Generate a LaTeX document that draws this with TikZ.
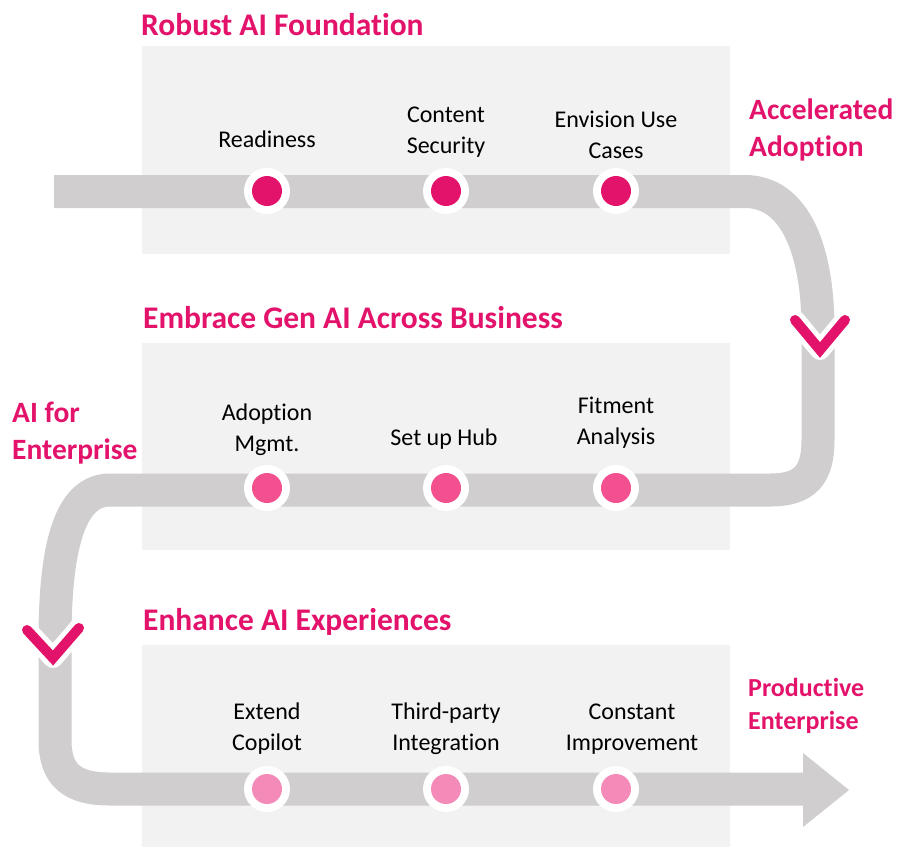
\documentclass[tikz,border=0pt]{standalone}
\usepackage{fontspec}
\setmainfont{Carlito}[RawFeature=-liga]
\definecolor{mag}{HTML}{E3126A}
\definecolor{dotA}{HTML}{E3126A}
\definecolor{dotB}{HTML}{F2508F}
\definecolor{dotC}{HTML}{F48AB8}
\definecolor{band}{HTML}{D0CECF}
\definecolor{panel}{HTML}{F2F2F2}
\tikzset{
  ttl/.style={text=mag,font=\fontsize{31.5}{37}\selectfont\bfseries,anchor=west,inner sep=0pt},
  side/.style={text=mag,font=\fontsize{29.5}{37}\selectfont\bfseries,anchor=west,align=left,inner sep=0pt},
  sideb/.style={text=mag,font=\fontsize{26}{33}\selectfont\bfseries,anchor=west,align=left,inner sep=0pt},
  lbl/.style={text=black,font=\fontsize{24}{31}\selectfont,align=center,inner sep=0pt},
  pnl/.style={fill=panel,draw=none},
  bandline/.style={draw=band,line width=33pt},
  ring/.style={circle,fill=white,minimum size=46pt,inner sep=0pt},
  chevw/.style={draw=white,line width=20pt,line cap=round,line join=round},
  chevm/.style={draw=mag,line width=10pt,line cap=round,line join=miter},
}
\begin{document}
\begin{tikzpicture}[x=1pt,y=-1pt]
\useasboundingbox (0,0) rectangle (912,847);
% panels
\fill[pnl] (142,46) rectangle (730,254);
\fill[pnl] (142,343) rectangle (730,550);
\fill[pnl] (142,645) rectangle (730,847);
% band path
\coordinate (start) at (54,191.5);
\coordinate (tipbase) at (804,789);
\draw[bandline] (start) -- (745,191.5) .. controls (795,191.5) and (818,250) .. (818,330)
  -- (818,440) .. controls (818,475) and (805,490) .. (770,490)
  -- (110,490) .. controls (72,490) and (55,540) .. (55,640)
  -- (55,740) .. controls (55,775) and (72,789) .. (110,789) -- (tipbase);
\fill[band] (803,753) -- (849,790) -- (803,827) -- cycle;
% chevrons
\coordinate (cr1) at (795,320); \coordinate (cr2) at (820,350); \coordinate (cr3) at (845,320);
\draw[chevw] (cr1) -- (cr2) -- (cr3);
\draw[chevm] (cr1) -- (cr2) -- (cr3);
\coordinate (cl1) at (27,630); \coordinate (cl2) at (53,658); \coordinate (cl3) at (79,628);
\draw[chevw] (cl1) -- (cl2) -- (cl3);
\draw[chevm] (cl1) -- (cl2) -- (cl3);
% dots
\foreach \x/\n in {267/a,446/b,616/c}{
  \node[ring] (ra\n) at (\x,191) {};
  \fill[dotA] (ra\n) circle (15);
  \node[ring] (rb\n) at (\x,488) {};
  \fill[dotB] (rb\n) circle (15);
  \node[ring] (rc\n) at (\x,789) {};
  \fill[dotC] (rc\n) circle (15);
}
% titles
\node[ttl] (t1) at (141,25) {Robust AI Foundation};
\node[ttl] (t2) at (143,318) {Embrace Gen AI Across Business};
\node[ttl] (t3) at (143,622) {Enhance AI Experiences};
\node[side] (s1) at (749,130) {Accelerated\\Adoption};
\node[side] (s2) at (12,433) {AI for\\Enterprise};
\node[sideb] (s3) at (748,706) {Productive\\Enterprise};
% labels
\node[lbl] (l1) at (267,139) {Readiness};
\node[lbl] (l2) at (446,132) {Content\\Security};
\node[lbl] (l3) at (616,135) {Envision Use\\Cases};
\node[lbl] (l4) at (267,430) {Adoption\\Mgmt.};
\node[lbl] (l5) at (444,439) {Set up Hub};
\node[lbl] (l6) at (616,423) {Fitment\\Analysis};
\node[lbl] (l7) at (267,729) {Extend\\Copilot};
\node[lbl] (l8) at (446,729) {Third-party\\Integration};
\node[lbl] (l9) at (632,729) {Constant\\Improvement};
\end{tikzpicture}
\end{document}
